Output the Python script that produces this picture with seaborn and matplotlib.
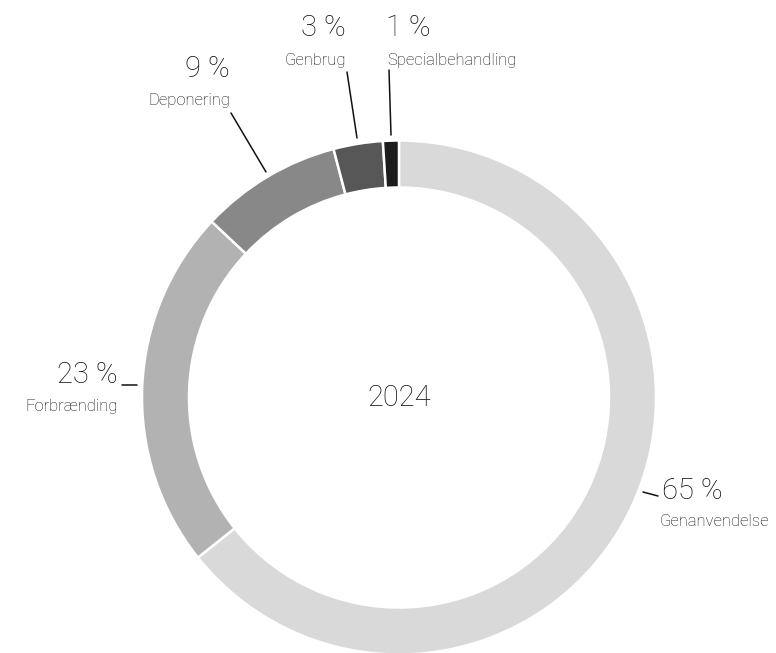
import matplotlib.pyplot as plt
import seaborn as sns

# Waste treatment shares 2024
categories = ['Genanvendelse', 'Forbrænding', 'Deponering', 'Genbrug', 'Specialbehandling']
shares = [64.3, 22.7, 8.9, 3.1, 1.0]
pct_labels = ['65 %', '23 %', '9 %', '3 %', '1 %']
year = '2024'

sns.set_theme(style='white')
plt.rcParams['font.family'] = ['Roboto', 'DejaVu Sans']

colors = ['#d9d9d9', '#b1b2b1', '#878887', '#575757', '#1c1c1c']
txt = '#111111'

W, H = 776, 653
fig = plt.figure(figsize=(W / 100, H / 100), dpi=100)
ax = fig.add_axes([0, 0, 1, 1])

cx, cy = 399, H - 397.5
ax.pie(shares, colors=colors, startangle=90, counterclock=False,
       center=(cx, cy), radius=257, frame=True,
       wedgeprops=dict(width=47, edgecolor='white', linewidth=1.8))
ax.set_xlim(0, W)
ax.set_ylim(0, H)
ax.set_aspect('equal')
ax.axis('off')

# label layout: (pct x, pct y, name x, name y, align, leader line)
layout = {
    'Genanvendelse': (662, 491, 660, 522, 'left', [(643, 492), (658, 496)]),
    'Forbrænding': (118, 375, 118, 407, 'right', [(122, 384.5), (137, 384.5)]),
    'Deponering': (230, 69, 230, 101, 'right', [(231, 113), (266, 172)]),
    'Genbrug': (346, 28, 346, 60, 'right', [(347, 72), (357, 138)]),
    'Specialbehandling': (386, 28, 387, 60, 'left', [(389, 70), (391, 135)]),
}

for cat, pct in zip(categories, pct_labels):
    px, py, nx, ny, ha, line = layout[cat]
    ax.text(px, H - py, pct, ha=ha, va='center', fontsize=21,
            fontweight='light', color=txt)
    ax.text(nx, H - ny, cat, ha=ha, va='center', fontsize=12,
            fontweight='light', color=txt)
    ax.plot([p[0] for p in line], [H - p[1] for p in line],
            color=txt, linewidth=1.1)

ax.text(cx, cy, year, ha='center', va='center', fontsize=21,
        fontweight='light', color=txt)

fig.savefig('out.png', dpi=100)
